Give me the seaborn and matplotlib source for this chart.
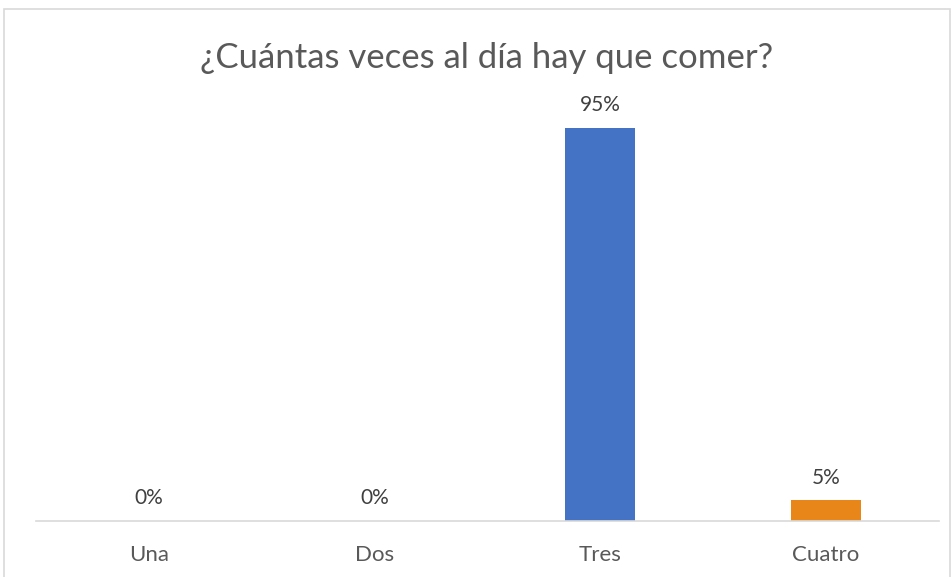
import matplotlib
matplotlib.use("Agg")
import matplotlib.pyplot as plt
import seaborn as sns
import pandas as pd
from matplotlib.patches import Rectangle

categories = ["Una", "Dos", "Tres", "Cuatro"]
values = [0.0, 0.0, 0.95, 0.05]
labels = ["0%", "0%", "95%", "5%"]
colors = ["#4472C4", "#4472C4", "#4472C4", "#E9861A"]
title = "¿Cuántas veces al día hay que comer?"

sns.set_theme(style="white")
plt.rcParams["font.family"] = ["Lato", "DejaVu Sans"]

df = pd.DataFrame({"cat": categories, "val": values})

fig = plt.figure(figsize=(9.53, 5.77), dpi=100)
ax = fig.add_axes([36/953, 56/577, 903/953, (521-107)/577])
sns.barplot(data=df, x="cat", y="val", hue="cat", palette=colors, width=0.31,
            legend=False, ax=ax, saturation=1, linewidth=0)
ax.set_ylim(0, 1.0)
ax.set_xlim(-0.5, 3.5)
for s in ["top", "right", "left"]:
    ax.spines[s].set_visible(False)
ax.spines["bottom"].set_color("#D9D9D9")
ax.spines["bottom"].set_linewidth(1.2)
ax.set_yticks([])
ax.set_xlabel("")
ax.set_ylabel("")
ax.tick_params(axis="x", length=0, pad=17, labelsize=16, labelcolor="#595959")
for i, (v, lab) in enumerate(zip(values, labels)):
    ax.annotate(lab, (i, v), xytext=(0, 9), textcoords="offset points",
                ha="center", va="bottom", fontsize=15, color="#404040")

fig.text(487/953, 1 - 58/577, title, ha="center", va="center",
         fontsize=25, color="#595959")
fig.patches.append(Rectangle((4/953, -0.01), 946/953, 1 - 9/577 + 0.01,
                             transform=fig.transFigure, fill=False,
                             edgecolor="#D9D9D9", linewidth=1.2))
fig.savefig("out.png", dpi=100)
